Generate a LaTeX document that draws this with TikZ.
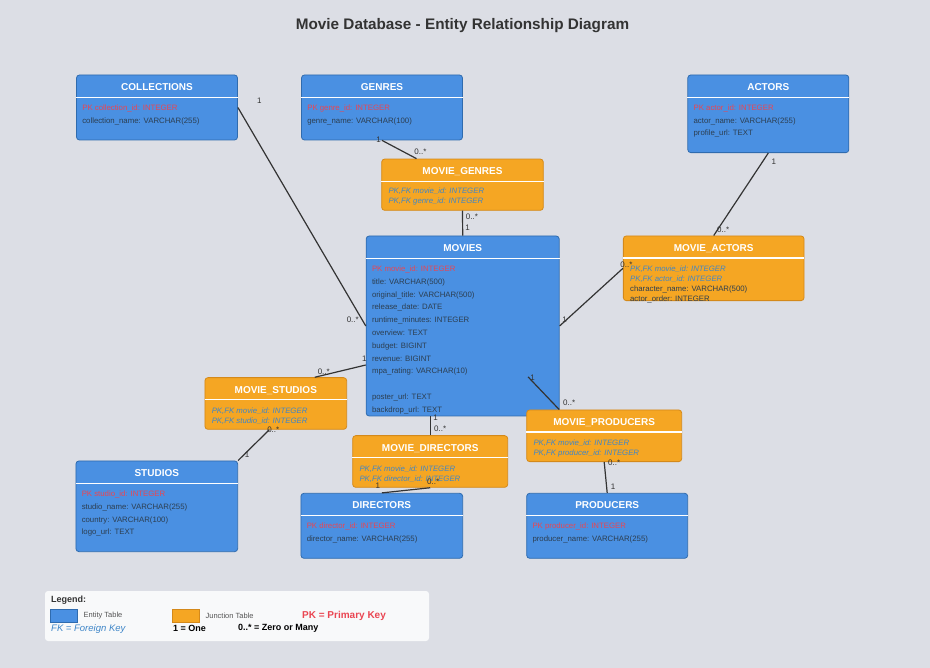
\documentclass[tikz,border=0pt]{standalone}
\usepackage{fontspec}
\setmainfont{Liberation Sans}
\usetikzlibrary{positioning}
\usetikzlibrary{calc}

\definecolor{canvas}{HTML}{DCDEE5}
\definecolor{titletext}{HTML}{333333}
\definecolor{entblue}{HTML}{4A90E2}
\definecolor{entline}{HTML}{2F6BAE}
\definecolor{juncorange}{HTML}{F5A623}
\definecolor{juncline}{HTML}{D4891A}
\definecolor{pkred}{HTML}{EA4652}
\definecolor{fkblue}{HTML}{3F86C8}
\definecolor{fieldtext}{HTML}{2C3E50}
\definecolor{relgray}{HTML}{333333}
\definecolor{legendbg}{HTML}{F8F9FA}
\definecolor{keytext}{HTML}{555555}

\newcommand{\pkline}[1]{{\color{pkred}PK #1}}
\newcommand{\fkline}[1]{{\color{fkblue}\itshape PK,FK #1}}

\begin{document}
\begin{tikzpicture}[x=1pt,y=-1pt,
    table/.style={rounded corners=3pt,line width=0.8pt,inner sep=0pt},
    entity/.style={table,fill=entblue,draw=entline},
    junction/.style={table,fill=juncorange,draw=juncline},
    head/.style={inner sep=0pt,text=white,font=\fontsize{10}{12}\selectfont\bfseries},
    sep/.style={white,line width=1.2pt},
    fields/.style={inner sep=0pt,align=left,text=fieldtext,font=\fontsize{7.8}{12.8}\selectfont},
    jfields/.style={fields,font=\fontsize{7.8}{10}\selectfont},
    rel/.style={draw=relgray,line width=1.2pt},
    card/.style={inner sep=0pt,text=relgray,font=\fontsize{8}{9}\selectfont}]
    \fill [canvas] (0,0) rectangle (930,668);
    \node (title) [anchor=base,text=titletext,font=\fontsize{15.3}{18}\selectfont\bfseries] at (462.5,30) {Movie Database - Entity Relationship Diagram};

    % entity tables
    \node (collections) [entity,minimum width=161pt,minimum height=65pt] at (157,107.5) {};
    \node (collectionsh) [head,below=8.7pt of collections.north] {COLLECTIONS};
    \draw [sep] ($(collections.north west)+(0,22.8)$) -- ($(collections.north east)+(0,22.8)$);
    \node (collectionsf) [fields,below right=30pt and 6pt of collections.north west] {\pkline{collection\_id: INTEGER}\\collection\_name: VARCHAR(255)};

    \node (genres) [entity,minimum width=161pt,minimum height=65pt] at (382,107.5) {};
    \node (genresh) [head,below=8.7pt of genres.north] {GENRES};
    \draw [sep] ($(genres.north west)+(0,22.8)$) -- ($(genres.north east)+(0,22.8)$);
    \node (genresf) [fields,below right=30pt and 6pt of genres.north west] {\pkline{genre\_id: INTEGER}\\genre\_name: VARCHAR(100)};

    \node (actors) [entity,minimum width=161pt,minimum height=77.7pt] at (768.3,113.8) {};
    \node (actorsh) [head,below=8.7pt of actors.north] {ACTORS};
    \draw [sep] ($(actors.north west)+(0,22.8)$) -- ($(actors.north east)+(0,22.8)$);
    \node (actorsf) [fields,below right=30pt and 6pt of actors.north west] {\pkline{actor\_id: INTEGER}\\actor\_name: VARCHAR(255)\\profile\_url: TEXT};

    \node (movies) [entity,minimum width=193pt,minimum height=180pt] at (462.7,326) {};
    \node (moviesh) [head,below=8.7pt of movies.north] {MOVIES};
    \draw [sep] ($(movies.north west)+(0,22.8)$) -- ($(movies.north east)+(0,22.8)$);
    \node (moviesf) [fields,below right=30pt and 6pt of movies.north west] {\pkline{movie\_id: INTEGER}\\title: VARCHAR(500)\\original\_title: VARCHAR(500)\\release\_date: DATE\\runtime\_minutes: INTEGER\\overview: TEXT\\budget: BIGINT\\revenue: BIGINT\\mpa\_rating: VARCHAR(10)\\[12.8pt]poster\_url: TEXT\\backdrop\_url: TEXT};

    \node (studios) [entity,minimum width=161.7pt,minimum height=90.7pt] at (156.8,506.3) {};
    \node (studiosh) [head,below=8.7pt of studios.north] {STUDIOS};
    \draw [sep] ($(studios.north west)+(0,22.8)$) -- ($(studios.north east)+(0,22.8)$);
    \node (studiosf) [fields,below right=30pt and 6pt of studios.north west] {\pkline{studio\_id: INTEGER}\\studio\_name: VARCHAR(255)\\country: VARCHAR(100)\\logo\_url: TEXT};

    \node (directors) [entity,minimum width=161.7pt,minimum height=65pt] at (381.8,525.8) {};
    \node (directorsh) [head,below=8.7pt of directors.north] {DIRECTORS};
    \draw [sep] ($(directors.north west)+(0,22.8)$) -- ($(directors.north east)+(0,22.8)$);
    \node (directorsf) [fields,below right=30pt and 6pt of directors.north west] {\pkline{director\_id: INTEGER}\\director\_name: VARCHAR(255)};

    \node (producers) [entity,minimum width=161pt,minimum height=65pt] at (607.2,525.8) {};
    \node (producersh) [head,below=8.7pt of producers.north] {PRODUCERS};
    \draw [sep] ($(producers.north west)+(0,22.8)$) -- ($(producers.north east)+(0,22.8)$);
    \node (producersf) [fields,below right=30pt and 6pt of producers.north west] {\pkline{producer\_id: INTEGER}\\producer\_name: VARCHAR(255)};

    % junction tables
    \node (moviegenres) [junction,minimum width=161.6pt,minimum height=51.3pt] at (462.5,184.7) {};
    \node (moviegenresh) [head,below=8.7pt of moviegenres.north] {MOVIE\_GENRES};
    \draw [sep] ($(moviegenres.north west)+(0,22.5)$) -- ($(moviegenres.north east)+(0,22.5)$);
    \node (moviegenresf) [jfields,below right=29pt and 7pt of moviegenres.north west] {\fkline{movie\_id: INTEGER}\\\fkline{genre\_id: INTEGER}};

    \node (movieactors) [junction,minimum width=180.7pt,minimum height=64.7pt] at (713.7,268.3) {};
    \node (movieactorsh) [head,below=8.7pt of movieactors.north] {MOVIE\_ACTORS};
    \draw [sep] ($(movieactors.north west)+(0,22.5)$) -- ($(movieactors.north east)+(0,22.5)$);
    \node (movieactorsf) [jfields,below right=30pt and 7pt of movieactors.north west] {\fkline{movie\_id: INTEGER}\\\fkline{actor\_id: INTEGER}\\character\_name: VARCHAR(500)\\actor\_order: INTEGER};

    \node (moviestudios) [junction,minimum width=141.7pt,minimum height=51.7pt] at (275.8,403.5) {};
    \node (moviestudiosh) [head,below=8.7pt of moviestudios.north] {MOVIE\_STUDIOS};
    \draw [sep] ($(moviestudios.north west)+(0,22.5)$) -- ($(moviestudios.north east)+(0,22.5)$);
    \node (moviestudiosf) [jfields,below right=30pt and 7pt of moviestudios.north west] {\fkline{movie\_id: INTEGER}\\\fkline{studio\_id: INTEGER}};

    \node (moviedirectors) [junction,minimum width=155pt,minimum height=51.7pt] at (430.2,461.5) {};
    \node (moviedirectorsh) [head,below=8.7pt of moviedirectors.north] {MOVIE\_DIRECTORS};
    \draw [sep] ($(moviedirectors.north west)+(0,22.5)$) -- ($(moviedirectors.north east)+(0,22.5)$);
    \node (moviedirectorsf) [jfields,below right=30pt and 7pt of moviedirectors.north west] {\fkline{movie\_id: INTEGER}\\\fkline{director\_id: INTEGER}};

    \node (movieproducers) [junction,minimum width=155pt,minimum height=51.7pt] at (604.2,435.8) {};
    \node (movieproducersh) [head,below=8.7pt of movieproducers.north] {MOVIE\_PRODUCERS};
    \draw [sep] ($(movieproducers.north west)+(0,22.5)$) -- ($(movieproducers.north east)+(0,22.5)$);
    \node (movieproducersf) [jfields,below right=30pt and 7pt of movieproducers.north west] {\fkline{movie\_id: INTEGER}\\\fkline{producer\_id: INTEGER}};

    % relationships
    \draw [rel] (collections.east) -- (movies.west)
        node [card,at start,xshift=21.5pt,yshift=7pt] {1}
        node [card,at end,xshift=-13pt,yshift=6.5pt] {0..*};
    \draw [rel] (genres.south) -- ([xshift=-46pt]moviegenres.north)
        node [card,at start,xshift=-3.5pt,yshift=1pt] {1}
        node [card,at end,xshift=4pt,yshift=7pt] {0..*};
    \draw [rel] (moviegenres.south) -- (movies.north)
        node [card,at start,xshift=9.5pt,yshift=-5.7pt] {0..*}
        node [card,at end,xshift=5pt,yshift=8pt] {1};
    \draw [rel] (actors.south) -- (movieactors.north)
        node [card,at start,xshift=5.5pt,yshift=-9pt] {1}
        node [card,at end,xshift=9.5pt,yshift=6pt] {0..*};
    \draw [rel] (movieactors.west) -- (movies.east)
        node [card,at start,xshift=3.5pt,yshift=4pt] {0..*}
        node [card,at end,xshift=5pt,yshift=6.5pt] {1};
    \draw [rel] ([xshift=39pt]moviestudios.north) -- ([yshift=-39pt]movies.west)
        node [card,at start,xshift=9pt,yshift=5.5pt] {0..*}
        node [card,at end,xshift=-1.5pt,yshift=6.5pt] {1};
    \draw [rel] (studios.north east) -- ([xshift=-6.5pt]moviestudios.south)
        node [card,at start,xshift=9pt,yshift=6pt] {1}
        node [card,at end,xshift=4pt] {0..*};
    \draw [rel] (moviedirectors.north |- movies.south) -- (moviedirectors.north)
        node [card,at start,xshift=5.5pt,yshift=-1.5pt] {1}
        node [card,at end,xshift=10pt,yshift=6.5pt] {0..*};
    \draw [rel] (directors.north) -- (moviedirectors.south)
        node [card,at start,xshift=-4pt,yshift=7pt] {1}
        node [card,at end,xshift=3pt,yshift=6.5pt] {0..*};
    \draw [rel] ([xshift=-31.5pt,yshift=39.5pt]movies.south east) -- ([xshift=-45pt]movieproducers.north)
        node [card,at start,xshift=4.5pt,yshift=-0.5pt] {1}
        node [card,at end,xshift=10pt,yshift=6.5pt] {0..*};
    \draw [rel] (movieproducers.south) -- (producers.north)
        node [card,at start,xshift=10pt,yshift=-0.5pt] {0..*}
        node [card,at end,xshift=6pt,yshift=6.5pt] {1};

    % legend
    \node (legend) [fill=legendbg,rounded corners=3pt,minimum width=384pt,minimum height=50pt,inner sep=0pt] at (237,616) {};
    \node (legendh) [anchor=west,inner sep=0pt,text=titletext,font=\fontsize{9}{11}\selectfont\bfseries] at (51,600) {Legend:};
    \node (entkey) [entity,rounded corners=0pt,minimum width=27pt,minimum height=13pt] at (63.5,615.5) {};
    \node (entkeyt) [right=6pt of entkey,inner sep=0pt,text=keytext,font=\fontsize{7.5}{9}\selectfont] {Entity Table};
    \node (junkey) [junction,rounded corners=0pt,minimum width=27pt,minimum height=13pt] at (185.5,615.5) {};
    \node (junkeyt) [right=6pt of junkey,inner sep=0pt,text=keytext,font=\fontsize{7.5}{9}\selectfont] {Junction Table};
    \node (pkkey) [anchor=west,inner sep=0pt,text=pkred,font=\fontsize{10}{12}\selectfont\bfseries] at (302,616) {PK = Primary Key};
    \node (fkkey) [anchor=west,inner sep=0pt,text=fkblue,font=\fontsize{9.5}{11}\selectfont\itshape] at (51,628.7) {FK = Foreign Key};
    \node (onekey) [anchor=west,inner sep=0pt,text=black,font=\fontsize{9}{11}\selectfont\bfseries] at (173,628.5) {1 = One};
    \node (manykey) [anchor=west,inner sep=0pt,text=black,font=\fontsize{9}{11}\selectfont\bfseries] at (238,628.5) {0..* = Zero or Many};
\end{tikzpicture}
\end{document}
